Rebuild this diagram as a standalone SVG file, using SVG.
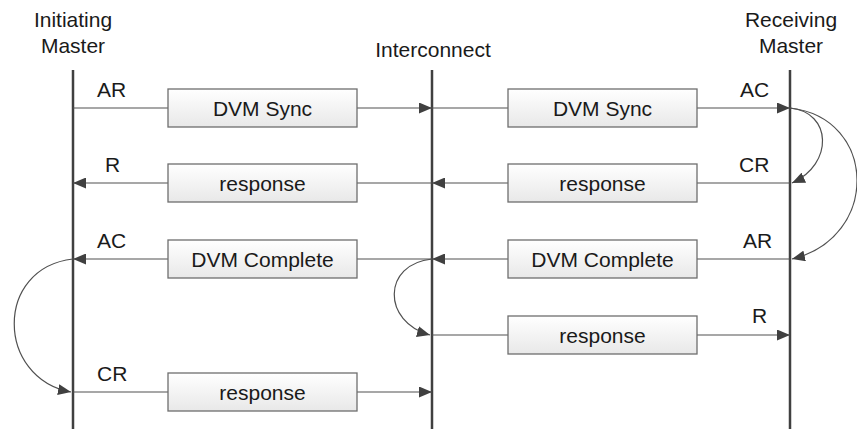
<svg xmlns="http://www.w3.org/2000/svg" width="857" height="429" viewBox="0 0 857 429">
<defs>
<linearGradient id="boxfill" x1="0" y1="0" x2="0" y2="1">
<stop offset="0" stop-color="#ffffff"/>
<stop offset="1" stop-color="#e8e8e8"/>
</linearGradient>
<marker id="ah" viewBox="0 0 13 11" refX="13" refY="5.5" markerWidth="13" markerHeight="11" markerUnits="userSpaceOnUse" orient="auto">
<path d="M0,0 L13,5.5 L0,11 z" fill="#404040"/>
</marker>
<style>
text{font-family:"Liberation Sans",Arial,sans-serif;font-size:21px;fill:#1a1a1a}
.life{stroke:#404040;stroke-width:2.5;fill:none}
.box{fill:url(#boxfill);stroke:#6e6e6e;stroke-width:1.3}
.msg{stroke:#505050;stroke-width:1.2;fill:none}
.arr{marker-end:url(#ah)}
.c{text-anchor:middle}
</style>
</defs>
<g id="initiating-master">
<text class="c" x="73" y="27">Initiating</text>
<text class="c" x="73" y="53">Master</text>
<line class="life" x1="73" y1="70" x2="73" y2="429"/>
</g>
<g id="interconnect">
<text class="c" x="433" y="57">Interconnect</text>
<line class="life" x1="432" y1="70" x2="432" y2="429"/>
</g>
<g id="receiving-master">
<text class="c" x="791" y="27">Receiving</text>
<text class="c" x="791" y="53">Master</text>
<line class="life" x1="790" y1="70" x2="790" y2="429"/>
</g>
<g id="connectors">
<line class="msg" x1="73" y1="108" x2="168" y2="108"/>
<line class="msg arr" x1="357" y1="108" x2="432" y2="108"/>
<line class="msg" x1="432" y1="108" x2="508" y2="108"/>
<line class="msg arr" x1="697" y1="108" x2="790" y2="108"/>
<line class="msg" x1="790" y1="183" x2="697" y2="183"/>
<line class="msg arr" x1="508" y1="183" x2="432" y2="183"/>
<line class="msg" x1="432" y1="183" x2="357" y2="183"/>
<line class="msg arr" x1="168" y1="183" x2="73" y2="183"/>
<line class="msg" x1="790" y1="259" x2="697" y2="259"/>
<line class="msg arr" x1="508" y1="259" x2="432" y2="259"/>
<line class="msg" x1="432" y1="259" x2="357" y2="259"/>
<line class="msg arr" x1="168" y1="259" x2="73" y2="259"/>
<line class="msg" x1="432" y1="335" x2="508" y2="335"/>
<line class="msg arr" x1="697" y1="335" x2="790" y2="335"/>
<line class="msg" x1="73" y1="392" x2="168" y2="392"/>
<line class="msg arr" x1="357" y1="392" x2="432" y2="392"/>
<path class="msg arr" d="M790,108 C832,112 834,164 792,183"/>
<path class="msg arr" d="M790,108 C878,118 880,238 792,259"/>
<path class="msg arr" d="M432,259 C382,264 382,322 430,335"/>
<path class="msg arr" d="M73,259 C-6,268 -4,378 71,392"/>
<text x="97" y="97">AR</text>
<text x="105" y="172">R</text>
<text x="97" y="248">AC</text>
<text x="97" y="381">CR</text>
<text x="740" y="97">AC</text>
<text x="739" y="172">CR</text>
<text x="743" y="248">AR</text>
<text x="752" y="323">R</text>
</g>
<g id="box-dvm-sync-1"><rect class="box" x="168" y="89" width="189" height="38"/><text class="c" x="262.5" y="115.5">DVM Sync</text></g>
<g id="box-dvm-sync-2"><rect class="box" x="508" y="89" width="189" height="38"/><text class="c" x="602.5" y="115.5">DVM Sync</text></g>
<g id="box-response-1"><rect class="box" x="168" y="164" width="189" height="38"/><text class="c" x="262.5" y="190.5">response</text></g>
<g id="box-response-2"><rect class="box" x="508" y="164" width="189" height="38"/><text class="c" x="602.5" y="190.5">response</text></g>
<g id="box-dvm-complete-1"><rect class="box" x="168" y="240" width="189" height="38"/><text class="c" x="262.5" y="266.5">DVM Complete</text></g>
<g id="box-dvm-complete-2"><rect class="box" x="508" y="240" width="189" height="38"/><text class="c" x="602.5" y="266.5">DVM Complete</text></g>
<g id="box-response-3"><rect class="box" x="508" y="316" width="189" height="38"/><text class="c" x="602.5" y="342.5">response</text></g>
<g id="box-response-4"><rect class="box" x="168" y="373" width="189" height="38"/><text class="c" x="262.5" y="399.5">response</text></g>
</svg>
